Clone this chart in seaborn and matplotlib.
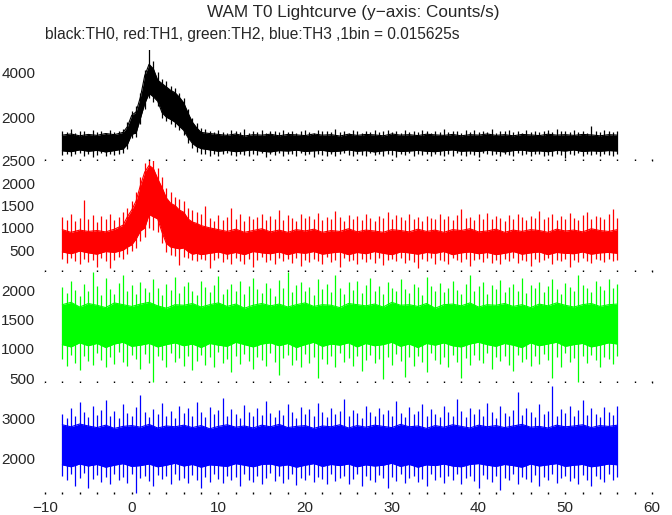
import numpy as np
import pandas as pd
import seaborn as sns
import matplotlib.pyplot as plt
from matplotlib.ticker import MultipleLocator

# time grids (s)
t_burst = [-8, -7, -6, -5, -4, -3, -2, -1,
           -0.5, 0, 0.5, 1, 1.5, 2, 2.5, 3, 3.5, 4, 4.5, 5, 5.5, 6, 6.5, 7, 7.5, 8,
           9, 10, 11, 12, 13, 14, 15, 16, 17, 18, 19, 20, 21, 22, 23, 24, 25, 26, 27, 28,
           29, 30, 31, 32, 33, 34, 35, 36, 37, 38, 39, 40, 41, 42, 43, 44, 45, 46, 47, 48,
           49, 50, 51, 52, 53, 54, 55, 56]
t_flat = [-8, -7, -6, -5, -4, -3, -2, -1, 0, 1, 2, 3, 4, 5, 6, 7, 8, 9, 10, 11, 12, 13,
          14, 15, 16, 17, 18, 19, 20, 21, 22, 23, 24, 25, 26, 27, 28, 29, 30, 31, 32, 33,
          34, 35, 36, 37, 38, 39, 40, 41, 42, 43, 44, 45, 46, 47, 48, 49, 50, 51, 52, 53,
          54, 55, 56]
t_half = [-8, -7.5, -7, -6.5, -6, -5.5, -5, -4.5, -4, -3.5, -3, -2.5, -2, -1.5, -1, -0.5,
          0, 0.5, 1, 1.5, 2, 2.5, 3, 3.5, 4, 4.5, 5, 5.5, 6, 6.5, 7, 7.5, 8, 8.5,
          9, 9.5, 10, 10.5, 11, 11.5, 12, 12.5, 13, 13.5, 14, 14.5, 15, 15.5, 16, 16.5,
          17, 17.5, 18, 18.5, 19, 19.5, 20, 20.5, 21, 21.5, 22, 22.5, 23, 23.5, 24, 24.5,
          25, 25.5, 26, 26.5, 27, 27.5, 28, 28.5, 29, 29.5, 30, 30.5, 31, 31.5, 32, 32.5,
          33, 33.5, 34, 34.5, 35, 35.5, 36, 36.5, 37, 37.5, 38, 38.5, 39, 39.5, 40, 40.5,
          41, 41.5, 42, 42.5, 43, 43.5, 44, 44.5, 45, 45.5, 46, 46.5, 47, 47.5, 48, 48.5,
          49, 49.5, 50, 50.5, 51, 51.5, 52, 52.5, 53, 53.5, 54, 54.5, 55, 55.5, 56]

# TH0 (black): dense core band and outer excursions, counts/s
th0_hi = [1230, 1280, 1200, 1260, 1220, 1300, 1250, 1350,
          1600, 2100, 2250, 2900, 3850, 4350, 4150, 3650, 3500, 3350, 3200, 3100, 2900, 2650, 2200, 1800, 1550, 1350,
          1300, 1260, 1220, 1280, 1190, 1250, 1230, 1270, 1200, 1260,
          1240, 1210, 1280, 1230, 1250, 1190, 1270, 1220, 1260, 1240,
          1200, 1280, 1230, 1250, 1210, 1270, 1240, 1220, 1260, 1200,
          1250, 1230, 1280, 1220, 1250, 1200, 1260, 1240, 1210, 1270,
          1230, 1250, 1220, 1260, 1240, 1200, 1250, 1230]
th0_lo = [540, 500, 580, 520, 560, 490, 550, 620,
          820, 1270, 1320, 1970, 2620, 3070, 2920, 2720, 2220, 2020, 1920, 1800, 1620, 1440, 1120, 870, 720, 640,
          580, 520, 560, 500, 540, 580, 520, 490, 550, 530,
          570, 510, 540, 560, 500, 530, 580, 520, 550, 490,
          540, 570, 510, 530, 560, 520, 500, 550, 580, 520,
          540, 510, 560, 530, 490, 550, 570, 520, 540, 500,
          560, 530, 580, 510, 540, 520, 550, 530]
th0_top = [1400, 1350, 1480, 1320, 1420, 1390, 1300, 1450, 1360, 1410, 1340, 1470, 1380, 1430,
           1500, 1800, 2300, 2500, 3100, 4100, 5100, 4500, 4000, 3700, 3600, 3400, 3300, 3100, 2850, 2400, 2000, 1750, 1550, 1500,
           1420, 1350, 1460, 1380, 1330, 1440, 1400, 1360, 1490, 1340,
           1410, 1370, 1450, 1320, 1430, 1390, 1350, 1470, 1380, 1420,
           1340, 1400, 1460, 1360, 1310, 1440, 1390, 1420, 1350, 1480,
           1370, 1410, 1340, 1450, 1390, 1330, 1430, 1380, 1460, 1350,
           1400, 1440, 1360, 1420, 1320, 1470, 1380, 1410, 1350, 1450,
           1390, 1340, 1430, 1370, 1480, 1360, 1420, 1400, 1330, 1460,
           1380, 1440, 1350, 1410, 1370, 1490, 1340, 1420, 1390, 1450,
           1360, 1400, 1330, 1470, 1380, 1430, 1350, 1410, 1440, 1370,
           1500, 1390, 1420, 1350, 1460, 1380, 1410, 1340, 1650, 1430,
           1370, 1450, 1400, 1360, 1420]
th0_bot = [350, 420, 300, 380, 450, 330, 400, 280, 370, 430, 310, 390, 340, 420,
           450, 600, 1100, 1150, 1700, 2400, 2850, 2700, 2500, 2000, 1850, 1700, 1600, 1450, 1250, 900, 650, 500, 420, 380,
           330, 410, 290, 380, 440, 350, 300, 420, 370, 310,
           400, 340, 450, 280, 390, 360, 430, 320, 380, 410,
           300, 440, 350, 390, 270, 420, 360, 330, 400, 310,
           380, 450, 340, 290, 410, 370, 320, 430, 350, 390,
           300, 420, 360, 280, 400, 340, 440, 310, 380, 350,
           420, 290, 390, 360, 330, 410, 300, 450, 370, 320,
           400, 350, 280, 430, 380, 340, 410, 300, 390, 360,
           320, 440, 350, 400, 290, 380, 420, 330, 370, 310,
           410, 360, 240, 390, 340, 430, 300, 380, 350, 420,
           320, 400, 370, 330, 390]

# TH1 (red)
th1_hi = [960, 900, 950, 920, 940, 910, 970, 1060,
          1250, 1400, 1600, 1950, 2250, 2400, 2330, 2100, 1900, 1670, 1550, 1500, 1400, 1350, 1200, 1130, 1100, 1050,
          1000, 960, 920, 970, 900, 940, 980, 910, 950, 900,
          960, 930, 970, 900, 940, 920, 980, 910, 950, 930,
          900, 960, 940, 910, 970, 920, 950, 900, 960, 940,
          980, 910, 930, 970, 900, 950, 920, 960, 940, 900,
          970, 930, 950, 910, 980, 940, 920, 960]
th1_lo = [460, 420, 480, 440, 410, 470, 450, 500,
          570, 620, 750, 930, 1000, 1300, 1250, 1200, 900, 650, 570, 550, 530, 550, 470, 410, 430, 400,
          430, 460, 410, 450, 400, 470, 440, 420, 460, 400,
          450, 430, 470, 410, 440, 460, 400, 450, 420, 470,
          430, 400, 460, 440, 410, 450, 430, 470, 400, 440,
          460, 420, 450, 400, 430, 470, 410, 440, 460, 400,
          450, 430, 420, 460, 410, 440, 450, 430]
th1_top = [1250, 1180, 1300, 1150, 1220, 1630, 1200, 1280, 1140, 1260, 1190, 1310, 1170, 1240,
           1350, 1450, 1600, 1800, 2150, 2450, 2550, 2550, 2350, 2150, 1900, 1800, 1700, 1650, 1600, 1450, 1400, 1350, 1300, 1500,
           1230, 1160, 1290, 1180, 1250, 1450, 1200, 1310, 1150, 1270,
           1190, 1240, 1320, 1170, 1260, 1210, 1400, 1180, 1280, 1230,
           1150, 1300, 1220, 1260, 1190, 1330, 1170, 1250, 1210, 1380,
           1240, 1160, 1290, 1200, 1270, 1180, 1310, 1230, 1150, 1260,
           1220, 1350, 1190, 1280, 1240, 1170, 1300, 1210, 1250, 1160,
           1270, 1230, 1190, 1320, 1200, 1260, 1180, 1290, 1420, 1220,
           1250, 1170, 1300, 1210, 1340, 1190, 1260, 1230, 1160, 1280,
           1200, 1310, 1240, 1180, 1270, 1220, 1380, 1190, 1250, 1300,
           1170, 1260, 1210, 1330, 1230, 1180, 1290, 1350, 1200, 1260,
           1240, 1190, 1300, 1430, 1220]
th1_bot = [300, 220, 330, 260, 180, 310, 240, 290, 120, 320, 250, 100, 280, 340,
           300, 420, 480, 550, 700, 800, 1000, 950, 900, 650, 450, 400, 380, 170, 350, 320, 280, 250, 300, 270,
           100, 280, 330, 240, 300, 200, 320, 260, 180, 310,
           120, 290, 340, 230, 270, 190, 320, 250, 300, 210,
           330, 150, 280, 240, 310, 260, 200, 340, 230, 290,
           130, 320, 250, 280, 190, 310, 240, 300, 220, 330,
           160, 270, 300, 250, 320, 210, 280, 240, 110, 310,
           260, 330, 200, 290, 250, 180, 320, 270, 230, 300,
           140, 280, 310, 240, 330, 220, 270, 190, 300, 250,
           320, 210, 290, 260, 140, 310, 230, 280, 330, 200,
           270, 250, 300, 120, 290, 240, 320, 260, 210, 300,
           280, 230, 310, 250, 290]

# TH2 (green)
th2_hi = [1750, 1790, 1710, 1770, 1740, 1700, 1780, 1750, 1720, 1760,
          1790, 1730, 1690, 1750, 1740, 1770, 1710, 1750, 1780, 1720,
          1760, 1690, 1740, 1770, 1730, 1760, 1710, 1750, 1780, 1720,
          1750, 1740, 1700, 1770, 1750, 1730, 1760, 1710, 1790, 1740,
          1750, 1720, 1770, 1690, 1750, 1760, 1730, 1780, 1710, 1750,
          1740, 1770, 1720, 1750, 1700, 1760, 1730, 1780, 1740, 1710,
          1750, 1770, 1720, 1750, 1760]
th2_lo = [1070, 1030, 1100, 1050, 1090, 1020, 1080, 1110, 1040, 1060,
          1090, 1030, 1070, 1100, 1050, 1080, 1020, 1090, 1060, 1040,
          1110, 1070, 1030, 1080, 1100, 1050, 1090, 1020, 1070, 1110,
          1040, 1080, 1060, 1100, 1030, 1090, 1050, 1070, 1110, 1040,
          1080, 1020, 1090, 1060, 1100, 1050, 1030, 1080, 1110, 1070,
          1040, 1090, 1060, 1020, 1100, 1050, 1080, 1110, 1040, 1070,
          1090, 1030, 1060, 1100, 1080]
th2_top = [2050, 1950, 2150, 2000, 1900, 2100, 1980, 2300, 2060, 1920,
           2200, 2010, 1940, 2120, 2250, 1990, 2080, 1930, 2140, 2030,
           1960, 2180, 2040, 1910, 2100, 2000, 2220, 1950, 2070, 2130,
           1990, 1920, 2160, 2050, 1970, 2090, 2240, 1940, 2020, 2110,
           1980, 2150, 1930, 2060, 2200, 2010, 1950, 2120, 2040, 1900,
           2170, 2030, 2300, 1960, 2080, 2140, 1990, 2050, 1920, 2190,
           2020, 2100, 1970, 2250, 2040, 1940, 2130, 2000, 2160, 1950,
           2080, 2210, 1990, 2060, 1930, 2140, 2030, 1980, 2180, 2010,
           1950, 2100, 2050, 1920, 2230, 2070, 1990, 2120, 1960, 2040,
           2150, 2000, 1940, 2110, 2260, 1980, 2060, 2130, 1930, 2090,
           2020, 2170, 1960, 2050, 2110, 1990, 2210, 1950, 2080, 2030,
           2140, 1970, 2060, 2190, 2010, 1940, 2120, 2050, 1980, 2250,
           2090, 2030, 1960, 2150, 2070, 2000, 2180, 2040, 2110]
th2_bot = [820, 700, 900, 760, 640, 880, 790, 720, 930, 810,
           680, 860, 740, 950, 780, 700, 890, 830, 660, 910,
           750, 430, 870, 800, 690, 920, 770, 840, 710, 880,
           640, 790, 900, 730, 850, 680, 940, 760, 820, 600,
           870, 740, 910, 790, 650, 860, 810, 700, 930, 770,
           550, 840, 890, 720, 800, 680, 910, 760, 850, 500,
           820, 740, 880, 690, 930, 780, 840, 710, 870, 620,
           800, 900, 750, 830, 480, 860, 730, 910, 790, 520,
           850, 700, 880, 770, 610, 920, 810, 740, 860, 690,
           900, 780, 500, 840, 720, 890, 810, 760, 930, 660,
           850, 790, 870, 720, 620, 900, 770, 830, 700, 880,
           740, 910, 810, 500, 860, 690, 920, 780, 840, 430,
           870, 750, 900, 800, 690, 860, 820, 740, 880]

# TH3 (blue)
th3_hi = [2830, 2780, 2850, 2800, 2760, 2820, 2740, 2790, 2810, 2770,
          2840, 2750, 2800, 2780, 2820, 2760, 2810, 2730, 2790, 2830,
          2770, 2800, 2750, 2820, 2780, 2840, 2760, 2790, 2810, 2740,
          2800, 2780, 2830, 2750, 2810, 2770, 2820, 2790, 2760, 2840,
          2780, 2800, 2740, 2810, 2770, 2830, 2790, 2750, 2820, 2780,
          2810, 2760, 2800, 2840, 2770, 2790, 2750, 2820, 2780, 2800,
          2830, 2760, 2810, 2790, 2820]
th3_lo = [1830, 1780, 1850, 1800, 1840, 1770, 1820, 1860, 1790, 1810,
          1850, 1780, 1820, 1870, 1800, 1840, 1770, 1830, 1810, 1790,
          1860, 1820, 1780, 1840, 1850, 1800, 1830, 1770, 1820, 1860,
          1790, 1840, 1810, 1850, 1780, 1830, 1800, 1820, 1870, 1790,
          1840, 1770, 1830, 1810, 1850, 1800, 1780, 1840, 1860, 1820,
          1790, 1840, 1810, 1770, 1850, 1800, 1830, 1860, 1790, 1820,
          1840, 1780, 1810, 1850, 1830]
th3_top = [3100, 3000, 3250, 3050, 3400, 3150, 3020, 3300, 3080, 3200,
           3450, 3050, 3180, 3000, 3350, 3120, 3060, 3280, 3580, 3150,
           3030, 3220, 3100, 3380, 3050, 3170, 3000, 3300, 3120, 3240,
           3060, 3400, 3150, 3020, 3270, 3090, 3190, 3500, 3040, 3230,
           3110, 3000, 3320, 3160, 3060, 3250, 3080, 3420, 3130, 3020,
           3200, 3070, 3350, 3150, 3000, 3280, 3100, 3220, 3050, 3380,
           3140, 3030, 3260, 3090, 3180, 3480, 3060, 3210, 3120, 3000,
           3300, 3150, 3040, 3250, 3100, 3200, 3060, 3420, 3130, 3020,
           3280, 3090, 3170, 3350, 3050, 3230, 3110, 3020, 3300, 3140,
           3060, 3475, 3180, 3030, 3260, 3100, 3220, 3050, 3380, 3140,
           3000, 3290, 3120, 3060, 3200, 3650, 3080, 3250, 3150, 3020,
           3340, 3100, 3180, 3800, 3060, 3220, 3130, 3300, 3040, 3190,
           3450, 3070, 3240, 3110, 3020, 3280, 3160, 3080, 3300]
th3_bot = [1550, 1450, 1600, 1300, 1500, 1620, 1250, 1480, 1580, 1400,
           1530, 1350, 1610, 1460, 1520, 1380, 1600, 1125, 1490, 1560,
           1420, 1300, 1570, 1470, 1540, 1350, 1600, 1440, 1510, 1380,
           1580, 1460, 1250, 1530, 1410, 1600, 1480, 1370, 1550, 1440,
           1520, 1300, 1590, 1460, 1400, 1560, 1350, 1500, 1620, 1430,
           1540, 1380, 1470, 1600, 1330, 1510, 1450, 1580, 1400, 1530,
           1470, 1350, 1590, 1420, 1500, 1560, 1360, 1480, 1610, 1300,
           1540, 1450, 1390, 1570, 1490, 1250, 1520, 1430, 1600, 1380,
           1500, 1560, 1410, 1470, 1300, 1590, 1440, 1530, 1380, 1550,
           1460, 1600, 1350, 1490, 1540, 1420, 1250, 1570, 1480, 1400,
           1550, 1200, 1500, 1440, 1590, 1360, 1520, 1470, 1410, 1580,
           1300, 1530, 1450, 1600, 1380, 1490, 1560, 1420, 1510, 1350,
           1570, 1460, 1300, 1540, 1480, 1400, 1590, 1440, 1520]

panels = [
    (t_burst, th0_hi, th0_lo, th0_top, th0_bot, 'black', (90, 4980), [2000, 4000]),
    (t_burst, th1_hi, th1_lo, th1_top, th1_bot, 'red', (10, 2500), [500, 1000, 1500, 2000, 2500]),
    (t_flat, th2_hi, th2_lo, th2_top, th2_bot, '#00ff00', (415, 2307), [500, 1000, 1500, 2000]),
    (t_flat, th3_hi, th3_lo, th3_top, th3_bot, 'blue', (1100, 3875), [2000, 3000]),
]

sns.set_style('white')
plt.rcParams['font.family'] = ['Liberation Sans', 'DejaVu Sans']

fig, axes = plt.subplots(4, 1, figsize=(6.72, 5.15), dpi=100, sharex=True)
fig.subplots_adjust(left=45/672, right=652/672, top=1-50/515, bottom=1-494/515, hspace=0)

for ax, (t, hi, lo, top, bot, c, ylim, yt) in zip(axes, panels):
    core = pd.DataFrame({'t': t, 'hi': hi, 'lo': lo})
    ax.fill_between(core.t, core.lo, core.hi, color=c, lw=0)
    sns.lineplot(core, x='t', y='hi', ax=ax, color=c, lw=0.8)
    sns.lineplot(core, x='t', y='lo', ax=ax, color=c, lw=0.8)
    # excursions beyond the dense core, one stroke per half-second
    ax.vlines(t_half, bot, top, color=c, lw=0.9)
    ax.set_ylim(*ylim)
    ax.set_yticks(yt)
    ax.set_xlim(-10, 60)
    ax.xaxis.set_major_locator(MultipleLocator(10))
    ax.xaxis.set_minor_locator(MultipleLocator(2))
    ax.tick_params(axis='x', which='both', bottom=True, length=1.5, width=1, direction='in', color='black')
    ax.tick_params(axis='y', length=0, pad=7, labelsize=11)
    ax.set_xlabel('')
    ax.set_ylabel('')
    for s in ax.spines.values():
        s.set_visible(False)

axes[-1].tick_params(axis='x', labelsize=11, pad=5)

fig.text(353/672, 1-12/515, 'WAM T0 Lightcurve (y\u2212axis: Counts/s)', ha='center', va='center', fontsize=12.3)
fig.text(45/672, 1-34/515, 'black:TH0, red:TH1, green:TH2, blue:TH3 ,1bin = 0.015625s',
         ha='left', va='center', fontsize=11.2)

fig.savefig('out.png', dpi=100)
